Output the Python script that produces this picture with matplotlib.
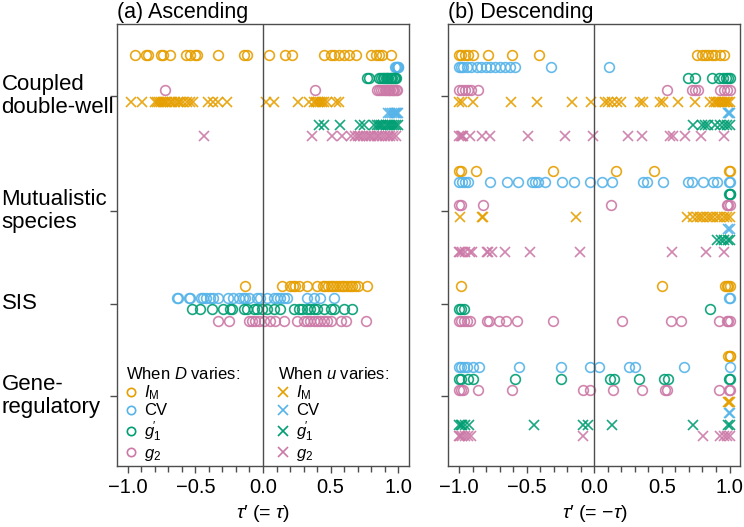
import numpy as np
import matplotlib
matplotlib.use("Agg")
import matplotlib.pyplot as plt
from matplotlib.lines import Line2D
from matplotlib import transforms

plt.rcParams['font.family'] = ['Liberation Sans', 'DejaVu Sans']
plt.rcParams['mathtext.fontset'] = 'custom'
plt.rcParams['mathtext.rm'] = 'Liberation Sans'
plt.rcParams['mathtext.it'] = 'Liberation Sans:italic'
plt.rcParams['mathtext.bf'] = 'Liberation Sans:bold'

# ---- data: tau' values, panel (a) ascending ----
a_dw_D_IM = [-0.946, -0.867, -0.847, -0.756, -0.736, -0.687, -0.568, -0.539, -0.501, -0.484, -0.336,
             -0.144, -0.119, 0.044, 0.165, 0.215, 0.449, 0.499, 0.528, 0.56, 0.597, 0.634, 0.684,
             0.795, 0.832, 0.857, 0.881, 0.943]
a_dw_D_CV = [0.975, 0.985, 0.99, 0.995, 1.0]
a_dw_D_g1 = [0.765, 0.78, 0.855, 0.87, 0.885, 0.895, 0.905, 0.915, 0.925, 0.935, 0.945, 0.955, 0.965,
             0.975, 0.985]
a_dw_D_g2 = [-0.724, 0.387, 0.84, 0.86, 0.875, 0.89, 0.9, 0.91, 0.92, 0.93, 0.94, 0.95, 0.96, 0.97,
             0.98, 0.99]
a_dw_u_IM = [-0.978, -0.897, -0.798, -0.785, -0.77, -0.755, -0.74, -0.725, -0.71, -0.69, -0.67, -0.65,
             -0.63, -0.61, -0.59, -0.565, -0.54, -0.514, -0.403, -0.366, -0.329, -0.267, 0.022, 0.079,
             0.256, 0.338, 0.375, 0.39, 0.405, 0.42, 0.435, 0.45, 0.474, 0.536, 0.56]
a_dw_u_CV = [0.92, 0.94, 0.955, 0.965, 0.975, 0.985, 0.99, 1.0]
a_dw_u_g1 = [0.412, 0.449, 0.567, 0.72, 0.745, 0.82, 0.84, 0.86, 0.875, 0.89, 0.905, 0.92, 0.935,
             0.95, 0.965, 0.98, 0.995]
a_dw_u_g2 = [-0.435, 0.363, 0.511, 0.585, 0.65, 0.68, 0.7, 0.72, 0.74, 0.76, 0.78, 0.8, 0.82, 0.84,
             0.86, 0.88, 0.9, 0.92, 0.94, 0.96, 0.98]

a_sis_D_IM = [-0.131, 0.141, 0.2, 0.225, 0.24, 0.265, 0.326, 0.4, 0.44, 0.46, 0.48, 0.5, 0.52, 0.54,
              0.56, 0.58, 0.6, 0.62, 0.64, 0.66, 0.68, 0.7, 0.77]
a_sis_D_CV = [-0.637, -0.625, -0.55, -0.538, -0.46, -0.44, -0.42, -0.395, -0.37, -0.33, -0.26, -0.22,
              -0.18, -0.15, -0.13, -0.10, -0.044, -0.02, 0.03, 0.08, 0.105, 0.128, 0.153, 0.178,
              0.326, 0.375, 0.424, 0.523]
a_sis_D_g1 = [-0.526, -0.464, -0.378, -0.292, -0.242, -0.23, -0.144, -0.119, -0.07, -0.044, -0.007,
              0.03, 0.079, 0.128, 0.227, 0.264, 0.289, 0.326, 0.35, 0.375, 0.4, 0.449, 0.499, 0.523,
              0.597, 0.659]
a_sis_D_g2 = [-0.336, -0.254, -0.107, -0.082, -0.057, -0.032, 0.005, 0.054, 0.091, 0.153, 0.252,
              0.301, 0.326, 0.35, 0.375, 0.4, 0.424, 0.449, 0.474, 0.499, 0.573, 0.61, 0.758]

# ---- data: tau' values, panel (b) descending ----
b_dw_D_IM = [-1.0, -0.985, -0.96, -0.935, -0.9, -0.785, -0.607, -0.41, 0.758, 0.795, 0.82, 0.844,
             0.869, 0.894, 0.93, 0.956]
b_dw_D_CV = [-1.0, -0.99, -0.97, -0.945, -0.91, -0.87, -0.84, -0.8, -0.77, -0.735, -0.7, -0.66,
             -0.625, -0.59, -0.323, 0.111]
b_dw_D_g1 = [0.696, 0.745, 0.87, 0.92, 0.955, 0.975, 0.99, 1.0]
b_dw_D_g2 = [-1.0, -0.982, -0.958, -0.933, -0.909, -0.859, 0.536, 0.721, 0.746, 0.77, 0.931, 0.956,
             0.98, 1.0]
b_dw_u_IM = [-1.0, -0.98, -0.896, -0.617, -0.427, -0.163, -0.025, 0.079, 0.103, 0.128, 0.165, 0.195,
             0.338, 0.363, 0.487, 0.506, 0.622, 0.744, 0.857, 0.882, 0.9, 0.915, 0.93, 0.945, 0.96,
             0.97, 0.98, 0.99, 1.0]
b_dw_u_CV = [0.985, 0.995, 1.0]
b_dw_u_g1 = [0.733, 0.795, 0.82, 0.844, 0.894, 0.931, 0.956, 0.98, 1.0]
b_dw_u_g2 = [-1.0, -0.99, -0.98, -0.97, -0.921, -0.834, -0.773, -0.491, -0.219, -0.012, 0.25, 0.353,
             0.561, 0.585, 0.669, 0.79, 0.956]

b_mut_D_IM = [-1.0, -0.99, -0.876, -0.304, 0.161, 0.442, 0.995, 1.0]
b_mut_D_CV = [-1.0, -0.98, -0.958, -0.933, -0.773, -0.644, -0.563, -0.464, -0.44, -0.415, -0.365,
              -0.237, -0.15, -0.032, 0.054, 0.129, 0.363, 0.388, 0.506, 0.696, 0.721, 0.807, 0.881,
              0.906, 0.995, 1.0]
b_mut_D_g1 = [0.995, 1.0, 1.0]
b_mut_D_g2 = [-1.0, -0.99, -0.822, 0.124, 0.98, 0.99, 1.0]
b_mut_u_IM = [-0.995, -0.834, -0.822, -0.136, 0.684, 0.733, 0.758, 0.782, 0.807, 0.832, 0.857, 0.881,
              0.906, 0.931, 0.956, 0.98, 1.0]
b_mut_u_CV = [0.99, 1.0]
b_mut_u_g1 = [0.91, 0.94, 0.96, 0.985, 1.0]
b_mut_u_g2 = [-1.0, -0.995, -0.98, -0.958, -0.921, -0.904, -0.797, -0.785, -0.76, -0.661, -0.476,
              -0.106, 0.573, 0.827, 0.956]

b_sis_D_IM = [-0.99, 0.499, 0.968, 0.98, 0.99, 1.0]
b_sis_D_CV = [0.995, 1.0]
b_sis_D_g1 = [-1.0, -0.985, -0.965, 0.852]
b_sis_D_g2 = [-1.0, -0.985, -0.965, -0.945, -0.92, -0.792, -0.778, -0.704, -0.654, -0.57, -0.308,
              0.205, 0.566, 0.64, 0.919, 0.98, 0.99, 1.0]

b_gene_D_IM = [0.99, 1.0, 1.0]
b_gene_D_CV = [-1.0, -0.985, -0.965, -0.945, -0.896, -0.852, -0.556, -0.247, -0.032, 0.035, 0.257,
               0.301, 0.664, 1.0]
b_gene_D_g1 = [-1.0, -0.985, -0.933, -0.896, -0.587, -0.249, 0.116, 0.148, 0.333, 0.516, 0.543,
               0.995, 1.0]
b_gene_D_g2 = [-1.0, -0.985, -0.97, -0.864, -0.607, -0.086, -0.032, 0.141, 0.351, 0.524, 0.536, 0.924,
               0.995, 1.0]
b_gene_u_IM = [0.985, 0.995, 1.0]
b_gene_u_CV = [0.995, 1.0]
b_gene_u_g1 = [-1.0, -0.99, -0.98, -0.958, -0.926, -0.447, -0.081, -0.044, 0.133, 0.733, 0.99, 1.0]
b_gene_u_g2 = [-1.0, -0.995, -0.98, -0.958, -0.933, -0.909, -0.081, 0.803, 0.931, 0.956, 0.98, 1.0]

systems = ["Coupled\ndouble-well", "Mutualistic\nspecies", "SIS", "Gene-\nregulatory"]
measures = [r"$I_\mathrm{M}$", "CV", r"$g^{\!\prime}_{1}$", r"$g_2$"]
colors = ["#E69F00", "#56B4E9", "#009E73", "#CC79A7"]

# (D-varies lists, u-varies lists) per system
panel_a = [
    ([a_dw_D_IM, a_dw_D_CV, a_dw_D_g1, a_dw_D_g2], [a_dw_u_IM, a_dw_u_CV, a_dw_u_g1, a_dw_u_g2]),
    ([[], [], [], []], [[], [], [], []]),
    ([a_sis_D_IM, a_sis_D_CV, a_sis_D_g1, a_sis_D_g2], None),
    ([[], [], [], []], [[], [], [], []]),
]
panel_b = [
    ([b_dw_D_IM, b_dw_D_CV, b_dw_D_g1, b_dw_D_g2], [b_dw_u_IM, b_dw_u_CV, b_dw_u_g1, b_dw_u_g2]),
    ([b_mut_D_IM, b_mut_D_CV, b_mut_D_g1, b_mut_D_g2], [b_mut_u_IM, b_mut_u_CV, b_mut_u_g1, b_mut_u_g2]),
    ([b_sis_D_IM, b_sis_D_CV, b_sis_D_g1, b_sis_D_g2], None),
    ([b_gene_D_IM, b_gene_D_CV, b_gene_D_g1, b_gene_D_g2], [b_gene_u_IM, b_gene_u_CV, b_gene_u_g1, b_gene_u_g2]),
]

# vertical layout: each row of marks is one unit, gap of 2 between systems
centers = [0, 10, 18, 26]

fig = plt.figure(figsize=(7.44, 5.27), dpi=100)
ax_a = fig.add_axes([0.157, 0.116, 0.393, 0.839])
ax_b = fig.add_axes([0.6026, 0.116, 0.3925, 0.839])

spine_col = "0.3"


def draw_panel(ax, panel):
    for c, (dlists, ulists) in zip(centers, panel):
        if ulists is None:
            offs_d = [-1.5, -0.5, 0.5, 1.5]
        else:
            offs_d = [-3.5, -2.5, -1.5, -0.5]
        for vals, off, col in zip(dlists, offs_d, colors):
            ax.plot(vals, np.full(len(vals), c + off), 'o', mfc='none', mec=col,
                    ms=7, mew=1.2, alpha=0.9)
        if ulists is not None:
            for vals, off, col in zip(ulists, [0.5, 1.5, 2.5, 3.5], colors):
                ax.plot(vals, np.full(len(vals), c + off), 'x', color=col,
                        ms=7.5, mew=1.2, alpha=0.9)
    ax.axvline(0, color=spine_col, lw=1)
    ax.set_xlim(-1.08, 1.08)
    ax.set_ylim(32.06, -6.24)
    ax.set_xticks([-1.0, -0.5, 0.0, 0.5, 1.0])
    ax.set_xticks(np.arange(-1.0, 1.01, 0.1), minor=True)
    ax.set_xticklabels(["\u22121.0", "\u22120.5", "0.0", "0.5", "1.0"])
    ax.set_yticks(centers)
    ax.set_yticklabels([])
    ax.tick_params(axis='both', which='both', direction='out', color=spine_col, width=1,
                   labelsize=14.5)
    ax.tick_params(axis='x', which='major', length=5, pad=4)
    ax.tick_params(axis='x', which='minor', length=4)
    ax.tick_params(axis='y', length=5)
    for s in ax.spines.values():
        s.set_color(spine_col)
        s.set_linewidth(1)
    ax.xaxis.set_label_coords(0.5, -0.083)


draw_panel(ax_a, panel_a)
draw_panel(ax_b, panel_b)

ax_a.set_title("(a) Ascending", loc='left', fontsize=15.5, pad=4)
ax_b.set_title("(b) Descending", loc='left', fontsize=15.5, pad=4)
ax_a.set_xlabel("$\\tau$\u2032 (= $\\tau$)", fontsize=14)
ax_b.set_xlabel("$\\tau$\u2032 (= \u2212$\\tau$)", fontsize=14)

# row labels, left aligned at figure edge
trans = transforms.blended_transform_factory(fig.transFigure, ax_a.transData)
for c, name in zip(centers, systems):
    fig.text(0.002, c, name, transform=trans, ha='left', va='center', fontsize=16,
             linespacing=1.15)

# legends
h_D = [Line2D([], [], ls='none', marker='o', mfc='none', mec=col, ms=6, mew=1.2) for col in colors]
h_u = [Line2D([], [], ls='none', marker='x', color=col, ms=7, mew=1.2) for col in colors]
leg_kw = dict(frameon=False, fontsize=12, title_fontsize=12, alignment='left', loc='lower left',
              handlelength=0.6, handletextpad=0.5, labelspacing=0.08, borderpad=0.2,
              borderaxespad=0.0)
leg1 = ax_a.legend(h_D, measures, title=r"When $D$ varies:", bbox_to_anchor=(0.02, 0.0), **leg_kw)
ax_a.add_artist(leg1)
ax_a.legend(h_u, measures, title=r"When $u$ varies:", bbox_to_anchor=(0.54, 0.0), **leg_kw)

fig.savefig("out.png", dpi=100)
